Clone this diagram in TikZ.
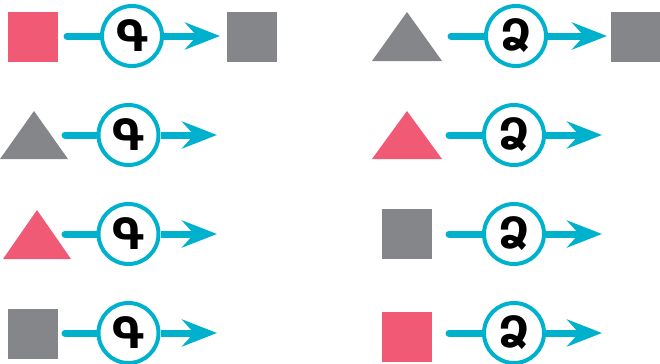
\documentclass[tikz,border=0pt]{standalone}
\usepackage{fontspec}
\usetikzlibrary{arrows.meta}
\newfontfamily\armfont{DejaVu Sans}
\definecolor{shapepink}{HTML}{F15A74}
\definecolor{shapegray}{HTML}{858689}
\definecolor{flowcyan}{HTML}{00B1CD}

\begin{document}
\begin{tikzpicture}[
  x=0.5pt, y=-0.5pt,
  sq/.style={rectangle, inner sep=0pt, minimum size=25pt},
  op/.style={circle, draw=flowcyan, fill=white, line width=2pt, minimum size=30pt, inner sep=0pt, font=\armfont\bfseries\fontsize{21.5}{21.5}\selectfont},
  feed/.style={line width=3.5pt, color=flowcyan, line cap=round},
  flow/.style={line width=3.5pt, color=flowcyan, -{Stealth[length=17.5pt, width=13.5pt, inset=6pt]}}
]
\useasboundingbox (0,0) rectangle (660,364);

% Left column: machine Գ
\node[sq, fill=shapepink] (in1) at (33,37) {};
\node[op] (opa1) at (132,36) {Գ};
\node[sq, fill=shapegray] (out1) at (252,37) {};
\coordinate (s1) at (67,36);
\coordinate (e1) at (220,36);
\draw[feed] (s1) -- (opa1);
\draw[flow] (opa1) -- (e1);

\fill[shapegray] (0,159) -- (34,111) -- (68,159) -- cycle;
\node[op] (opa2) at (128.5,135) {Գ};
\coordinate (s2) at (65,135);
\coordinate (e2) at (217,135);
\draw[feed] (s2) -- (opa2);
\draw[flow] (opa2) -- (e2);

\fill[shapepink] (3,259) -- (37,210) -- (71,259) -- cycle;
\node[op] (opa3) at (128.5,234) {Գ};
\coordinate (s3) at (65,234);
\coordinate (e3) at (217,234);
\draw[feed] (s3) -- (opa3);
\draw[flow] (opa3) -- (e3);

\node[sq, fill=shapegray] (in4) at (33,334) {};
\node[op] (opa4) at (128.5,333) {Գ};
\coordinate (s4) at (65,333);
\coordinate (e4) at (217,333);
\draw[feed] (s4) -- (opa4);
\draw[flow] (opa4) -- (e4);

% Right column: machine Ձ
\fill[shapegray] (372,61) -- (407,12) -- (442,61) -- cycle;
\node[op] (opb1) at (516,36) {Ձ};
\node[sq, fill=shapegray] (out5) at (636,37) {};
\coordinate (s5) at (451,36);
\coordinate (e5) at (607,36);
\draw[feed] (s5) -- (opb1);
\draw[flow] (opb1) -- (e5);

\fill[shapepink] (372,159) -- (407,111) -- (442,159) -- cycle;
\node[op] (opb2) at (514,135) {Ձ};
\coordinate (s6) at (449,135);
\coordinate (e6) at (602,135);
\draw[feed] (s6) -- (opb2);
\draw[flow] (opb2) -- (e6);

\node[sq, fill=shapegray] (in7) at (407,233.5) {};
\node[op] (opb3) at (514,234) {Ձ};
\coordinate (s7) at (449,234);
\coordinate (e7) at (602,234);
\draw[feed] (s7) -- (opb3);
\draw[flow] (opb3) -- (e7);

\node[sq, fill=shapepink] (in8) at (407,337) {};
\node[op] (opb4) at (514,333) {Ձ};
\coordinate (s8) at (449,333);
\coordinate (e8) at (602,333);
\draw[feed] (s8) -- (opb4);
\draw[flow] (opb4) -- (e8);

\end{tikzpicture}
\end{document}
